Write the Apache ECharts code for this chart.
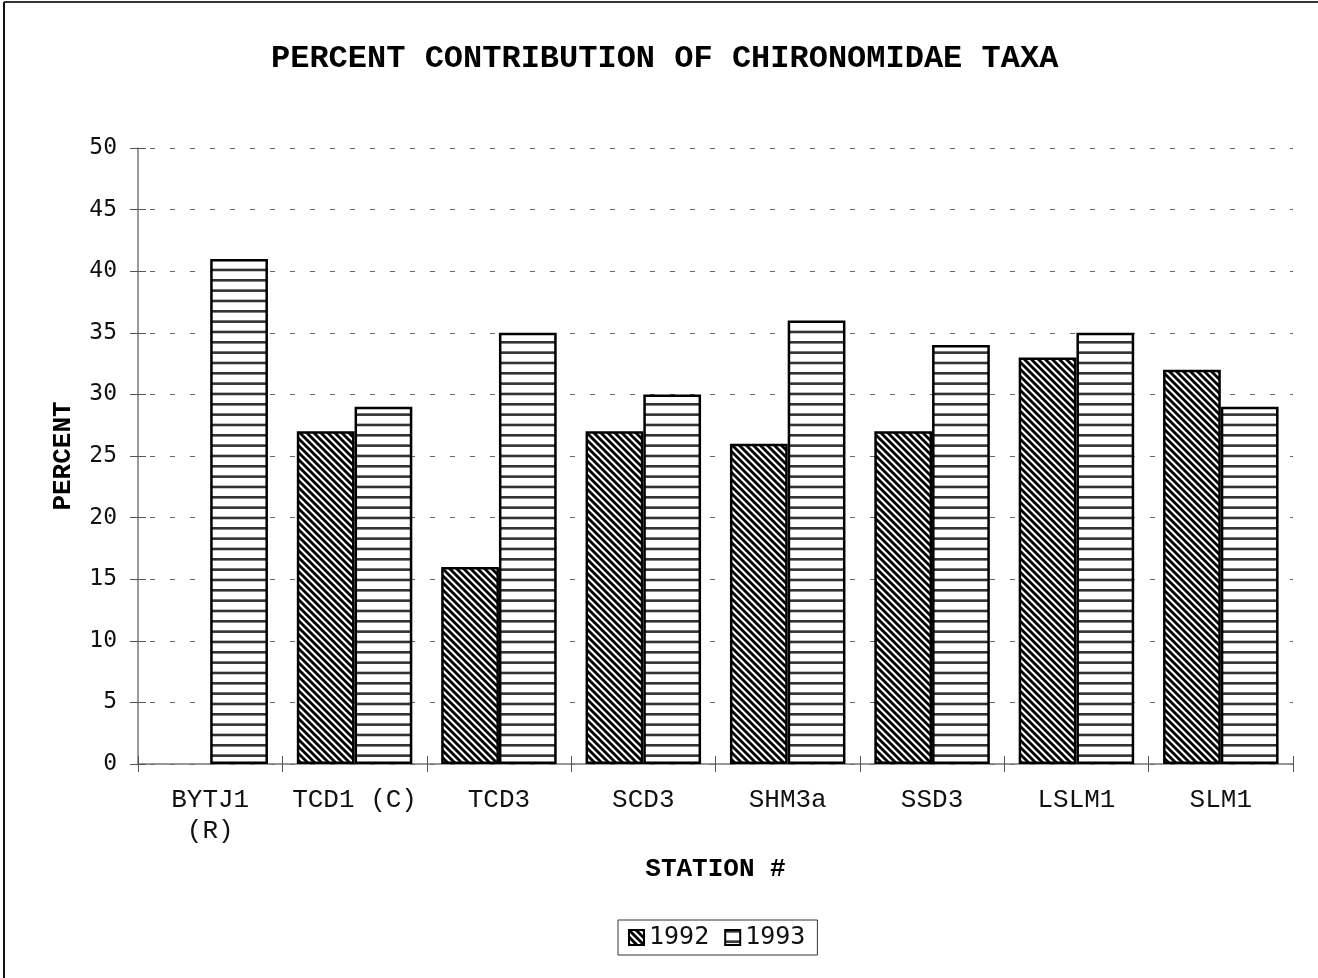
<!DOCTYPE html>
<html>
<head>
<meta charset="utf-8">
<style>
  html, body { margin: 0; padding: 0; background: #fff; }
  #chart { width: 1318px; height: 978px; }
</style>
<script src="https://cdn.jsdelivr.net/npm/echarts@6/dist/echarts.min.js"></script>
</head>
<body>
<div id="chart"></div>
<script>
// Stations and per-year percentages
const stations = ['BYTJ1\n(R)', 'TCD1 (C)', 'TCD3', 'SCD3', 'SHM3a', 'SSD3', 'LSLM1', 'SLM1'];
const pct1992 = [null, 27, 16, 27, 26, 27, 33, 32];
const pct1993 = [41, 29, 35, 30, 36, 34, 35, 29];
const yearNames = ['1992', '1993'];

const MONO = '"Courier New", "Liberation Mono", monospace';
const SANS_MONO = '"DejaVu Sans Mono", monospace';

// Diagonal hatch ("\" lines) used for the first year
function diagonalHatch() {
  const s = 7;
  const c = document.createElement('canvas');
  c.width = s; c.height = s;
  const g = c.getContext('2d');
  g.fillStyle = '#fff';
  g.fillRect(0, 0, s, s);
  g.strokeStyle = '#000';
  g.lineWidth = 2.8;
  for (let k = -1; k <= 1; k++) {
    g.beginPath();
    g.moveTo(k * s - 1, -1);
    g.lineTo(k * s + s + 1, s + 1);
    g.stroke();
  }
  return c;
}

// Horizontal rules used for the second year
function horizontalHatch() {
  const w = 8, h = 31;
  const c = document.createElement('canvas');
  c.width = w; c.height = h;
  const g = c.getContext('2d');
  g.fillStyle = '#fff';
  g.fillRect(0, 0, w, h);
  g.fillStyle = '#333';
  for (let i = 0; i < 3; i++) {
    g.fillRect(0, i * h / 3, w, 2.6);
  }
  return c;
}

const chart = echarts.init(document.getElementById('chart'), null, { renderer: 'canvas' });

const grid = { left: 138, right: 25, top: 148, bottom: 214 };

chart.setOption({
  backgroundColor: '#fff',
  animation: false,
  title: {
    text: 'PERCENT CONTRIBUTION OF CHIRONOMIDAE TAXA',
    left: 271,
    top: 43,
    padding: 0,
    textStyle: { fontFamily: MONO, fontWeight: 'bold', fontSize: 32, color: '#000' }
  },
  legend: {
    data: yearNames,
    top: 920,
    left: 618,
    padding: [5, 12, 5, 10],
    icon: 'rect',
    itemWidth: 15,
    itemHeight: 15,
    itemGap: 15,
    borderColor: '#333',
    borderWidth: 1,
    borderRadius: 0,
    textStyle: { fontFamily: SANS_MONO, fontSize: 25, color: '#111' }
  },
  grid: grid,
  xAxis: [
    {
      type: 'category',
      data: stations,
      position: 'bottom',
      name: 'STATION #',
      nameLocation: 'middle',
      nameGap: 92,
      nameTextStyle: { fontFamily: MONO, fontWeight: 'bold', fontSize: 26, color: '#000' },
      axisLine: { lineStyle: { color: '#777', width: 1.5 } },
      axisTick: { show: true, length: 8, alignWithLabel: false, lineStyle: { color: '#555', width: 1 } },
      axisLabel: { interval: 0, margin: 21, fontFamily: MONO, fontSize: 26, lineHeight: 31, color: '#111' },
      splitLine: { show: false }
    },
    {
      // inward half of the crossing ticks
      type: 'category',
      data: stations,
      position: 'bottom',
      axisLine: { show: false },
      axisTick: { show: true, inside: true, length: 8, lineStyle: { color: '#555', width: 1 } },
      axisLabel: { show: false },
      splitLine: { show: false }
    }
  ],
  yAxis: [
    {
      type: 'value',
      min: 0,
      max: 50,
      interval: 5,
      name: 'PERCENT',
      nameLocation: 'middle',
      nameGap: 62,
      nameTextStyle: { fontFamily: MONO, fontWeight: 'bold', fontSize: 26, color: '#000' },
      axisLine: { show: true, lineStyle: { color: '#777', width: 1.5 } },
      axisTick: { show: true, length: 8, lineStyle: { color: '#555', width: 1 } },
      axisLabel: { margin: 21, fontFamily: SANS_MONO, fontSize: 23, color: '#111' },
      splitLine: { show: true, lineStyle: { color: '#666', width: 1, type: [5, 15], dashOffset: -12 } }
    },
    {
      // inward half of the crossing ticks
      type: 'value',
      min: 0,
      max: 50,
      interval: 5,
      position: 'left',
      axisLine: { show: false },
      axisTick: { show: true, inside: true, length: 8, lineStyle: { color: '#555', width: 1 } },
      axisLabel: { show: false },
      splitLine: { show: false }
    }
  ],
  series: [
    {
      name: yearNames[0],
      type: 'bar',
      xAxisIndex: 0,
      yAxisIndex: 0,
      data: pct1992,
      barGap: '0%',
      barCategoryGap: '20%',
      itemStyle: {
        color: { image: diagonalHatch(), repeat: 'repeat' },
        borderColor: '#000',
        borderWidth: 2.5
      }
    },
    {
      name: yearNames[1],
      type: 'bar',
      xAxisIndex: 0,
      yAxisIndex: 0,
      data: pct1993,
      barGap: '0%',
      barCategoryGap: '20%',
      itemStyle: {
        color: { image: horizontalHatch(), repeat: 'repeat' },
        borderColor: '#000',
        borderWidth: 2.5
      }
    }
  ],
  graphic: [
    { type: 'line', shape: { x1: 4, y1: 2, x2: 1318, y2: 2 }, style: { stroke: '#333', lineWidth: 2 } },
    { type: 'line', shape: { x1: 4, y1: 2, x2: 4, y2: 978 }, style: { stroke: '#111', lineWidth: 2 } }
  ]
});
</script>
</body>
</html>
